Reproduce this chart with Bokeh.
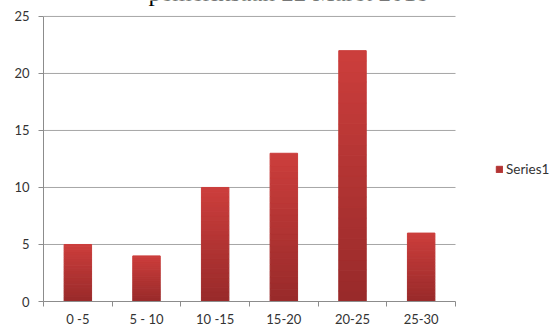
from bokeh.plotting import figure
from bokeh.models import (ColumnDataSource, FixedTicker, Legend, LegendItem, Label, Range1d)
from bokeh.embed import file_html
from bokeh.resources import INLINE
import numpy as np

categories = ["0 -5", "5 - 10", "10 -15", "15-20", "20-25", "25-30"]
values = [5, 4, 10, 13, 22, 6]
series_name = "Series1"
title_text = "pemeriksaan 22 Maret 2018"
y_ticks = [0, 5, 10, 15, 20, 25]
y_max = 25

font = "Lato"
n_cat = len(categories)

# frame spans to the top/right edges so title and legend can sit in it;
# the axes themselves are bounded to the data area
p = figure(width=558, height=329, output_backend="svg", toolbar_location=None,
           x_range=Range1d(0, n_cat * 515 / 412), y_range=Range1d(0, y_max * 302 / 286),
           min_border_left=43, min_border_right=0, min_border_top=0, min_border_bottom=27)
p.outline_line_color = None
p.background_fill_color = "white"
p.border_fill_color = "white"
p.grid.visible = False

# horizontal gridlines
gy = y_ticks[1:]
p.segment(x0=[0] * len(gy), x1=[n_cat] * len(gy), y0=gy, y1=gy,
          line_color="#a6a6a6", line_width=1)

# gradient bars built from bands of each bar's value
n_bands = 24
top_col = np.array([0xCC, 0x3E, 0x3C])
bot_col = np.array([0x98, 0x2A, 0x2A])
xc = np.arange(n_cat) + 0.5
vals = np.array(values, dtype=float)
renderers = []
for k in range(n_bands):
    t = (k + 0.5) / n_bands
    c = bot_col + (top_col - bot_col) * t
    color = "#%02x%02x%02x" % tuple(int(round(v)) for v in c)
    src = ColumnDataSource(dict(x=xc, bottom=vals * k / n_bands, top=vals * (k + 1) / n_bands))
    r = p.vbar(x="x", bottom="bottom", top="top", width=0.4, source=src,
               fill_color=color, line_color=color, line_width=1)
    renderers.append(r)

# y axis
p.yaxis.bounds = (0, y_max)
p.yaxis.ticker = FixedTicker(ticks=y_ticks)
p.yaxis.axis_line_color = "#8c8c8c"
p.yaxis.major_tick_line_color = "#8c8c8c"
p.yaxis.major_tick_out = 5
p.yaxis.major_tick_in = 0
p.yaxis.minor_tick_line_color = None
p.yaxis.major_label_text_font = font
p.yaxis.major_label_text_font_size = "13px"
p.yaxis.major_label_text_color = "#333333"
p.yaxis.major_label_standoff = 9

# x axis: labels at centres, tick marks at category boundaries
p.xaxis.bounds = (0, n_cat)
p.xaxis.ticker = FixedTicker(ticks=list(xc), minor_ticks=list(range(n_cat + 1)))
p.xaxis.major_label_overrides = {float(x): c for x, c in zip(xc, categories)}
p.xaxis.axis_line_color = "#8c8c8c"
p.xaxis.major_tick_line_color = None
p.xaxis.major_tick_out = 0
p.xaxis.major_tick_in = 0
p.xaxis.minor_tick_line_color = "#8c8c8c"
p.xaxis.minor_tick_out = 5
p.xaxis.minor_tick_in = 0
p.xaxis.major_label_text_font = font
p.xaxis.major_label_text_font_size = "13px"
p.xaxis.major_label_text_color = "#333333"
p.xaxis.major_label_standoff = 4

legend = Legend(items=[LegendItem(label=series_name, renderers=[renderers[n_bands // 2]])],
                location=(452, 124), glyph_width=8, glyph_height=8,
                label_text_font=font, label_text_font_size="13.5px", label_text_color="#333333",
                border_line_color=None, background_fill_alpha=0, padding=2, spacing=0,
                label_standoff=3, margin=0)
p.add_layout(legend)

title = Label(x=245, y=309, x_units="screen", y_units="screen", text=title_text,
              text_font="Liberation Serif", text_font_size="25px", text_align="center",
              text_baseline="alphabetic", text_color="black")
p.add_layout(title)

open("out.html", "w").write(file_html(p, INLINE))
